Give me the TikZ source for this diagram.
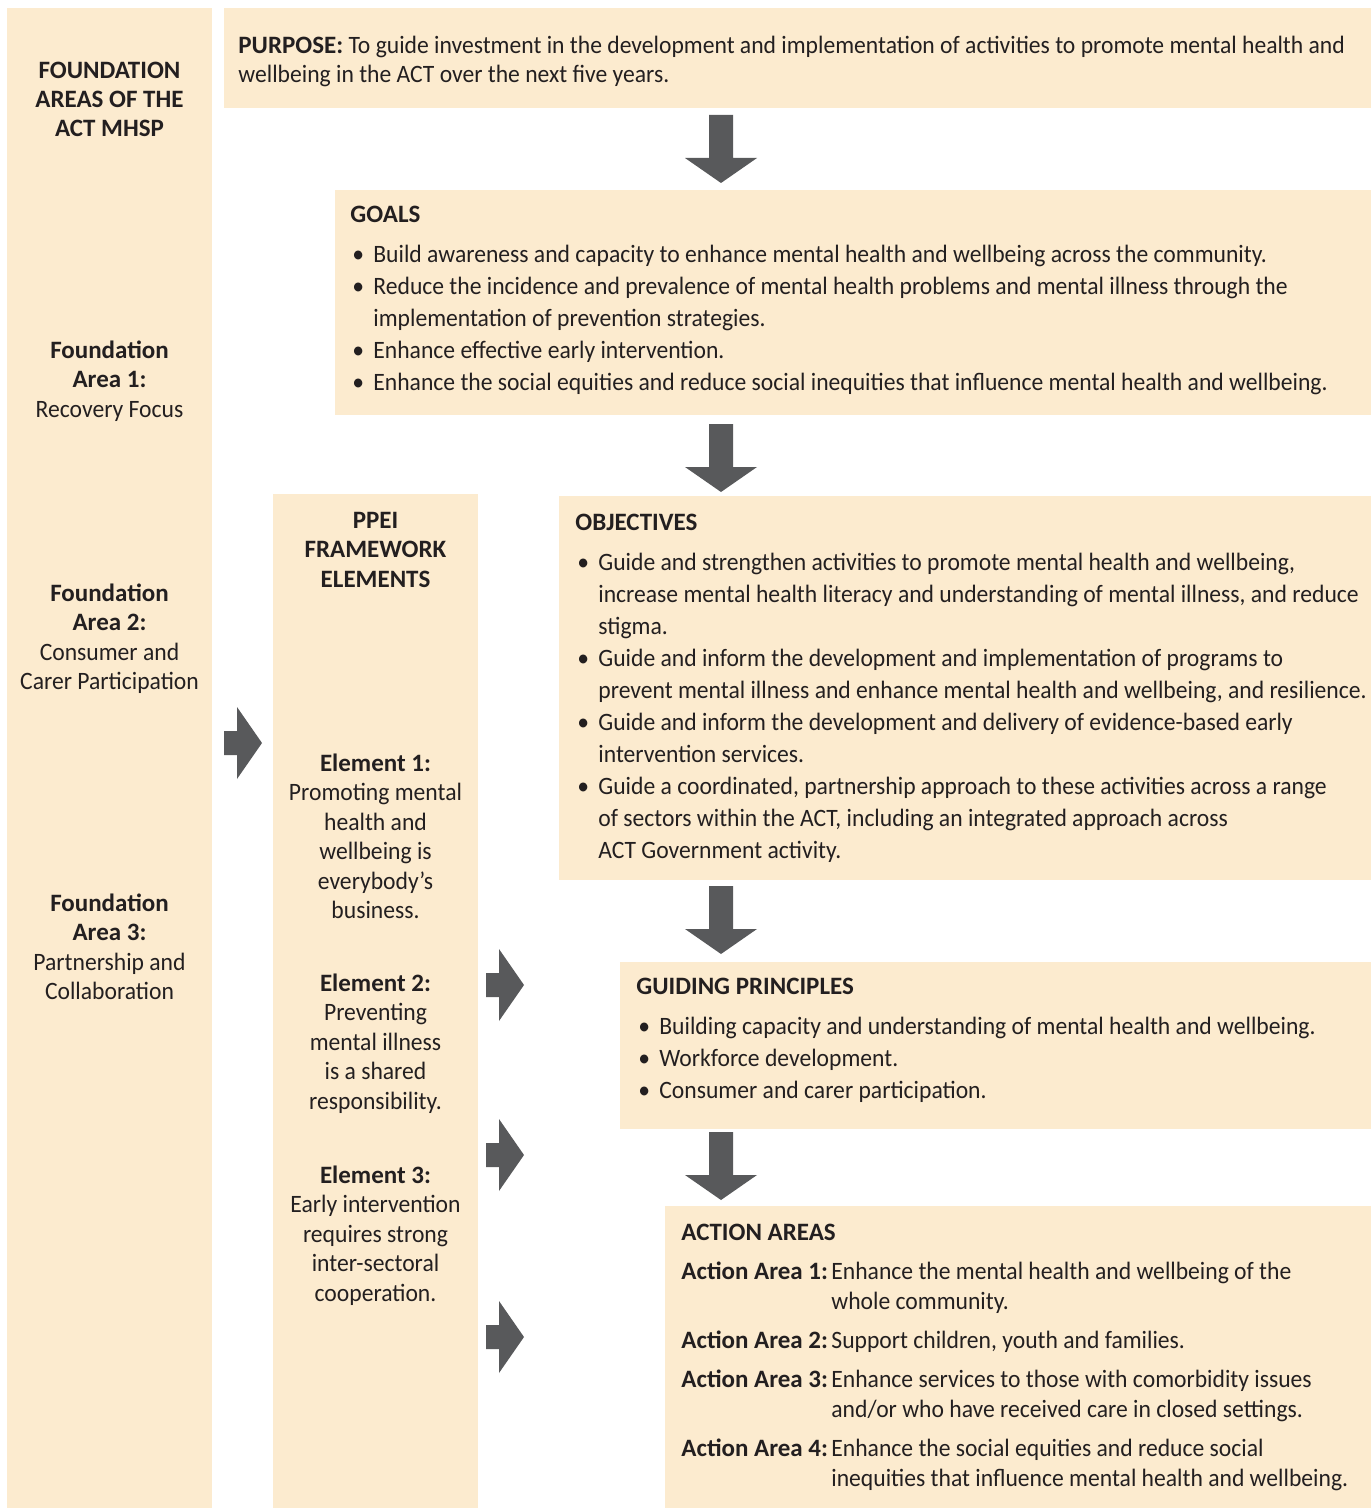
\documentclass[tikz,border=0pt]{standalone}
\usepackage{fontspec}
\setmainfont{Carlito}[UprightFeatures={FakeStretch=0.945}, BoldFeatures={FakeStretch=1.0}]
\usetikzlibrary{fit}

\definecolor{panelbg}{HTML}{FCEBCF}
\definecolor{arrowgrey}{HTML}{58595B}
\definecolor{inkdark}{HTML}{231F20}
\newcommand{\bul}{\hspace{1pt}\textbullet}

\begin{document}
\begin{tikzpicture}[
    x=0.5pt, y=-0.5pt,
    panel/.style={fill=panelbg, draw=none, inner sep=0pt},
    txt/.style={inner sep=0pt, anchor=north west, text=inkdark, font=\fontsize{12.5}{16}\selectfont},
    coltxt/.style={txt, anchor=north, font=\fontsize{12.5}{14.75}\selectfont},
    downarrow/.pic={\fill[arrowgrey] (-12,0) -- (12,0) -- (12,43) -- (36,43) -- (0,68) -- (-36,43) -- (-12,43) -- cycle;},
    rightarrow/.pic={\fill[arrowgrey] (0,-12) -- (13,-12) -- (13,-36) -- (38,0) -- (13,36) -- (13,12) -- (0,12) -- cycle;}
]
\useasboundingbox (0,0) rectangle (1371,1508);

% Panels
\node[panel, fit={(7,8) (212,1508)}] (found) {};
\node[panel, fit={(224,8) (1371,108)}] (purpose) {};
\node[panel, fit={(335,190) (1371,415)}] (goals) {};
\node[panel, fit={(273,494) (478,1508)}] (ppei) {};
\node[panel, fit={(559,496) (1371,880)}] (objectives) {};
\node[panel, fit={(620,962) (1371,1129)}] (guiding) {};
\node[panel, fit={(665,1206) (1371,1508)}] (action) {};

% Block arrows
\pic (arrpurpose) at (721,115) {downarrow};
\pic (arrgoals) at (721,424) {downarrow};
\pic (arrobj) at (721,886) {downarrow};
\pic (arrguide) at (721,1132) {downarrow};
\pic (arrfound) at (224,743) {rightarrow};
\pic (arrel1) at (486,985) {rightarrow};
\pic (arrel2) at (486,1155) {rightarrow};
\pic (arrel3) at (486,1337) {rightarrow};

% Foundation areas
\node[coltxt, font=\fontsize{12.5}{14.5}\selectfont] (foundtitle) at (109.5,57.7) {\begin{tabular}{@{}c@{}}\textbf{FOUNDATION}\\ \textbf{AREAS OF THE}\\ \textbf{ACT MHSP}\end{tabular}};
\node[coltxt] (found1) at (109.5,337.3) {\begin{tabular}{@{}c@{}}\textbf{Foundation}\\ \textbf{Area 1:}\\ Recovery Focus\end{tabular}};
\node[coltxt] (found2) at (109.5,580.3) {\begin{tabular}{@{}c@{}}\textbf{Foundation}\\ \textbf{Area 2:}\\ Consumer and\\ Carer Participation\end{tabular}};
\node[coltxt] (found3) at (109.5,890.3) {\begin{tabular}{@{}c@{}}\textbf{Foundation}\\ \textbf{Area 3:}\\ Partnership and\\ Collaboration\end{tabular}};

% PPEI elements
\node[coltxt] (ppeititle) at (375.5,507.3) {\begin{tabular}{@{}c@{}}\textbf{PPEI}\\ \textbf{FRAMEWORK}\\ \textbf{ELEMENTS}\end{tabular}};
\node[coltxt] (el1) at (375.5,750.3) {\begin{tabular}{@{}c@{}}\textbf{Element 1:}\\ Promoting mental\\ health and\\ wellbeing is\\ everybody’s\\ business.\end{tabular}};
\node[coltxt] (el2) at (375.5,970.3) {\begin{tabular}{@{}c@{}}\textbf{Element 2:}\\ Preventing\\ mental illness\\ is a shared\\ responsibility.\end{tabular}};
\node[coltxt] (el3) at (375.5,1162.3) {\begin{tabular}{@{}c@{}}\textbf{Element 3:}\\ Early intervention\\ requires strong\\ inter-sectoral\\ cooperation.\end{tabular}};

% Purpose
\node[txt, font=\fontsize{12.5}{14.5}\selectfont] (purposetxt) at (238,32.7) {\begin{tabular}{@{}l@{}}\textbf{PURPOSE:} To guide investment in the development and implementation of activities to promote mental health and\\ wellbeing in the ACT over the next five years.\end{tabular}};

% Goals
\node[txt] (goalstxt) at (350,199.6) {\begin{tabular}{@{}p{11.5pt}@{}l@{}}
\multicolumn{2}{@{}l@{}}{\textbf{GOALS}}\\[4pt]
\bul & Build awareness and capacity to enhance mental health and wellbeing across the community.\\
\bul & Reduce the incidence and prevalence of mental health problems and mental illness through the\\
 & implementation of prevention strategies.\\
\bul & Enhance effective early intervention.\\
\bul & Enhance the social equities and reduce social inequities that influence mental health and wellbeing.
\end{tabular}};

% Objectives
\node[txt] (objtxt) at (575,507.6) {\begin{tabular}{@{}p{11.5pt}@{}l@{}}
\multicolumn{2}{@{}l@{}}{\textbf{OBJECTIVES}}\\[4pt]
\bul & Guide and strengthen activities to promote mental health and wellbeing,\\
 & increase mental health literacy and understanding of mental illness, and reduce\\
 & stigma.\\
\bul & Guide and inform the development and implementation of programs to\\
 & prevent mental illness and enhance mental health and wellbeing, and resilience.\\
\bul & Guide and inform the development and delivery of evidence-based early\\
 & intervention services.\\
\bul & Guide a coordinated, partnership approach to these activities across a range\\
 & of sectors within the ACT, including an integrated approach across\\
 & ACT Government activity.
\end{tabular}};

% Guiding principles
\node[txt] (guidetxt) at (636,971.6) {\begin{tabular}{@{}p{11.5pt}@{}l@{}}
\multicolumn{2}{@{}l@{}}{\textbf{GUIDING PRINCIPLES}}\\[4pt]
\bul & Building capacity and understanding of mental health and wellbeing.\\
\bul & Workforce development.\\
\bul & Consumer and carer participation.
\end{tabular}};

% Action areas
\node[txt, font=\fontsize{12.5}{15}\selectfont] (actiontxt) at (681,1219) {\begin{tabular}{@{}p{75pt}@{}l@{}}
\multicolumn{2}{@{}l@{}}{\textbf{ACTION AREAS}}\\[4.5pt]
\textbf{Action Area 1:} & Enhance the mental health and wellbeing of the\\
 & whole community.\\[4.5pt]
\textbf{Action Area 2:} & Support children, youth and families.\\[4.5pt]
\textbf{Action Area 3:} & Enhance services to those with comorbidity issues\\
 & and/or who have received care in closed settings.\\[4.5pt]
\textbf{Action Area 4:} & Enhance the social equities and reduce social\\
 & inequities that influence mental health and wellbeing.
\end{tabular}};
\end{tikzpicture}
\end{document}
